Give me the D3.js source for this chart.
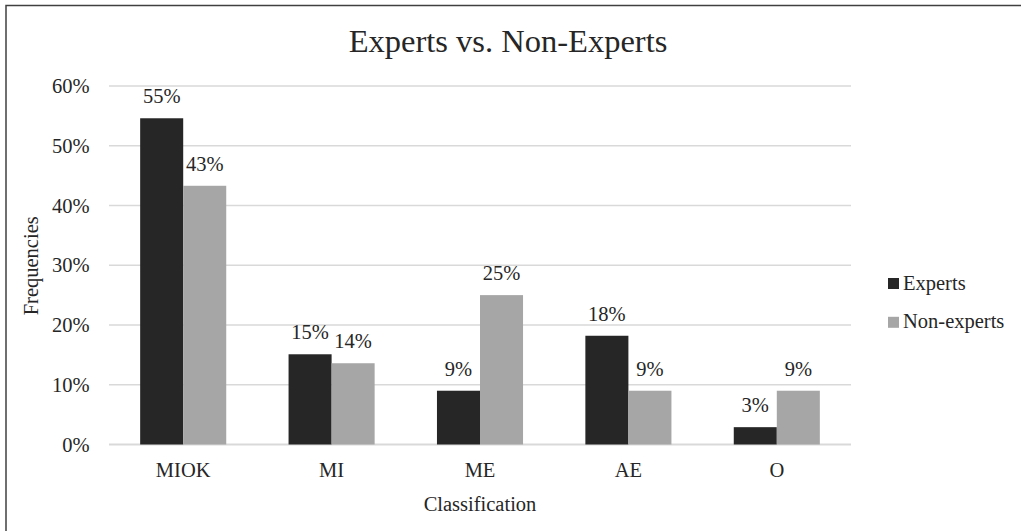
<!DOCTYPE html>
<html>
<head>
<meta charset="utf-8">
<script src="https://cdn.jsdelivr.net/npm/d3@7"></script>
<style>
  html, body { margin: 0; padding: 0; background: #fff; }
  svg { display: block; }
  text { font-family: "Liberation Serif", "Times New Roman", serif; fill: #262626; }
</style>
</head>
<body>
<svg id="chart" width="1021" height="531"></svg>
<script>
const categories = ["MIOK", "MI", "ME", "AE", "O"];
const seriesNames = ["Experts", "Non-experts"];
const experts = [54.6, 15.1, 9.0, 18.2, 2.9];
const nonExperts = [43.3, 13.6, 25.0, 9.0, 9.0];
const yTicks = [0, 10, 20, 30, 40, 50, 60];
const colors = ["#262626", "#a6a6a6"];

const svg = d3.select("#chart");
const W = 1021, H = 531;
const plot = { left: 109, right: 851, top: 86, bottom: 444.5 };

// frame (only top/left visible in reference)
svg.append("rect")
  .attr("x", 6).attr("y", 5.5)
  .attr("width", W + 20).attr("height", H + 20)
  .attr("fill", "none").attr("stroke", "#404040").attr("stroke-width", 1.5);

const x = d3.scaleBand().domain(categories)
  .range([plot.left, plot.right])
  .paddingInner(0.42).paddingOuter(0.21);
const xs = d3.scaleBand().domain(seriesNames).range([0, x.bandwidth()]);
const y = d3.scaleLinear().domain([0, 60]).range([plot.bottom, plot.top]);

// gridlines
svg.append("g").selectAll("line").data(yTicks).join("line")
  .attr("x1", plot.left).attr("x2", plot.right)
  .attr("y1", d => y(d)).attr("y2", d => y(d))
  .attr("stroke", "#d9d9d9")
  .attr("stroke-width", d => d === 0 ? 2 : 1.3);

// y tick labels
svg.append("g").selectAll("text").data(yTicks).join("text")
  .attr("x", 89.5).attr("y", d => y(d) + 7)
  .attr("text-anchor", "end")
  .attr("font-size", 20.5)
  .text(d => d + "%");

// bars
const data = [];
categories.forEach((c, i) => {
  data.push({ cat: c, s: "Experts", v: experts[i], color: colors[0] });
  data.push({ cat: c, s: "Non-experts", v: nonExperts[i], color: colors[1] });
});

svg.append("g").selectAll("rect").data(data).join("rect")
  .attr("x", d => x(d.cat) + xs(d.s))
  .attr("y", d => y(d.v))
  .attr("width", xs.bandwidth())
  .attr("height", d => y(0) - y(d.v))
  .attr("fill", d => d.color);

// value labels
svg.append("g").selectAll("text").data(data).join("text")
  .attr("x", d => x(d.cat) + xs(d.s) + xs.bandwidth() / 2)
  .attr("y", d => y(d.v) - 15)
  .attr("text-anchor", "middle")
  .attr("font-size", 20.5)
  .text(d => Math.round(d.v) + "%");

// x category labels
svg.append("g").selectAll("text").data(categories).join("text")
  .attr("x", d => x(d) + x.bandwidth() / 2)
  .attr("y", 476.7)
  .attr("text-anchor", "middle")
  .attr("font-size", 20.5)
  .text(d => d);

// title
svg.append("text")
  .attr("x", 508).attr("y", 52)
  .attr("text-anchor", "middle")
  .attr("font-size", 32.5)
  .text("Experts vs. Non-Experts");

// axis titles
svg.append("text")
  .attr("x", (plot.left + plot.right) / 2).attr("y", 511)
  .attr("text-anchor", "middle")
  .attr("font-size", 20.5)
  .text("Classification");

svg.append("text")
  .attr("transform", "translate(37.5,265.8) rotate(-90)")
  .attr("text-anchor", "middle")
  .attr("font-size", 20.5)
  .text("Frequencies");

// legend
const legend = svg.append("g").selectAll("g").data(seriesNames).join("g")
  .attr("transform", (d, i) => `translate(888, ${278 + i * 38.8})`);
legend.append("rect")
  .attr("width", 11).attr("height", 11)
  .attr("fill", (d, i) => colors[i]);
legend.append("text")
  .attr("x", 15).attr("y", 11.5)
  .attr("font-size", 20.5)
  .text(d => d);
</script>
</body>
</html>
